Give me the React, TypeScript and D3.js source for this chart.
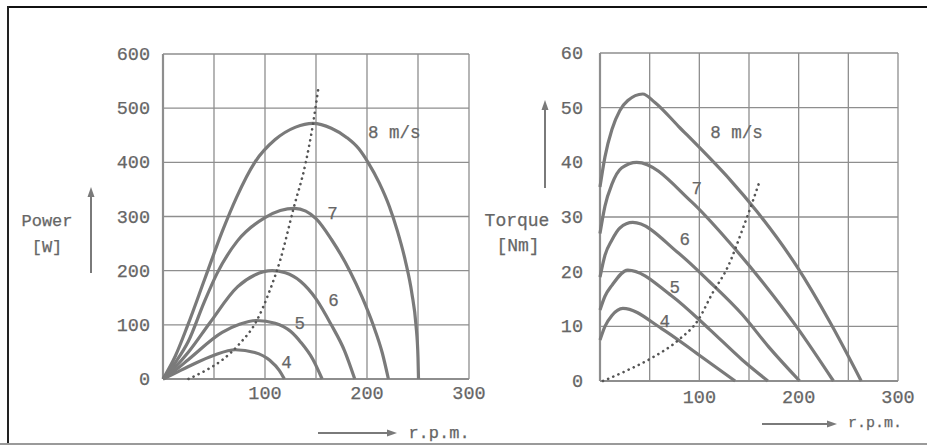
import React from 'react';
import * as d3 from 'd3';

// power curves [rpm, W]
const power8: [number, number][] = [[0, 0], [12, 42], [24, 98], [41, 185], [58, 272], [72, 335], [90, 400], [110, 442], [130, 465], [147, 472], [165, 463], [180, 446], [192, 425], [201, 400], [212, 362], [222, 318], [230, 272], [238, 215], [244, 158], [248, 100], [250, 40], [250.5, 0]];
const power7: [number, number][] = [[0, 0], [12, 30], [25, 70], [40, 140], [53, 195], [73, 255], [100, 298], [115, 311], [129, 315], [140, 310], [150, 296], [165, 258], [183, 200], [195, 152], [206, 100], [215, 48], [221, 0]];
const power6: [number, number][] = [[0, 0], [12, 22], [25, 50], [46, 104], [73, 170], [90, 192], [107, 200], [120, 196], [135, 180], [150, 148], [165, 100], [178, 52], [188, 0]];
const power5: [number, number][] = [[0, 0], [12, 16], [25, 36], [58, 86], [75, 101], [92, 108], [110, 103], [125, 88], [135, 68], [147, 36], [156, 0]];
const power4: [number, number][] = [[0, 0], [12, 11], [25, 23], [50, 44], [71, 54], [90, 49], [105, 34], [114, 16], [119, 0]];
const powerMax: [number, number][] = [[25, 0], [42, 16], [58, 35], [75, 65], [92, 108], [104, 160], [115, 220], [128, 315], [140, 400], [147, 470], [152, 533]];

// torque curves [rpm, Nm]
const torque8: [number, number][] = [[0, 35.5], [5, 41], [12, 46], [20, 49.5], [28, 51.3], [43, 52.5], [55, 51], [79, 46.6], [113, 40.3], [131, 36.8], [158, 31], [198, 21], [232, 10.6], [263, 0]];
const torque7: [number, number][] = [[0, 27], [5, 32], [12, 36], [22, 39], [37, 40], [92, 32.8], [131, 25.2], [165, 17.8], [198, 9.9], [235, 0]];
const torque6: [number, number][] = [[0, 19], [5, 23], [12, 25.8], [20, 28], [33, 29], [79, 23.4], [110, 18.2], [143, 12.2], [170, 6.2], [201, 0]];
const torque5: [number, number][] = [[0, 13], [5, 15.5], [12, 17.5], [28, 20.3], [72, 15.6], [110, 9.5], [143, 3.9], [169, 0]];
const torque4: [number, number][] = [[0, 7.5], [5, 10], [12, 12], [23, 13.3], [62, 9.6], [100, 4.7], [136, 0]];
const torqueMax: [number, number][] = [[3, 0], [28, 2], [52, 4.2], [79, 7.5], [99, 11.2], [113, 16], [129, 21], [144, 28], [154, 33], [161, 36.7]];

const rpmTicks = [100, 200, 300];
const rpmGrid = [0, 50, 100, 150, 200, 250, 300];
const powerTicks = [0, 100, 200, 300, 400, 500, 600];
const torqueTicks = [0, 10, 20, 30, 40, 50, 60];

const powerLabels = [
  { text: '8 m/s', rpm: 201, v: 445 },
  { text: '7', rpm: 161, v: 295 },
  { text: '6', rpm: 162, v: 135 },
  { text: '5', rpm: 129, v: 92 },
  { text: '4', rpm: 116, v: 20 },
];
const torqueLabels = [
  { text: '8 m/s', rpm: 111, v: 44.4 },
  { text: '7', rpm: 92, v: 34.2 },
  { text: '6', rpm: 80, v: 24.9 },
  { text: '5', rpm: 70, v: 16.1 },
  { text: '4', rpm: 60, v: 9.9 },
];

const FONT = '"Liberation Mono", "DejaVu Sans Mono", monospace';
const INK = '#666';
const CURVE = '#7a7a7a';
const GRID = '#8e8e8e';

const txt = { fontFamily: FONT, fill: INK, stroke: INK, strokeWidth: 0.25 };

const Panel = ({ x0, x1, y0, y1, yMax, yTicks, curves, dotted, labels, xLabelY, yLabelX }) => {
  const x = d3.scaleLinear().domain([0, 300]).range([x0, x1]);
  const y = d3.scaleLinear().domain([0, yMax]).range([y1, y0]);
  const line = d3.line<[number, number]>()
    .x(d => x(d[0]))
    .y(d => y(d[1]))
    .curve(d3.curveMonotoneX);

  return (
    <g>
      {rpmGrid.map(t => (
        <line key={'v' + t} x1={x(t)} x2={x(t)} y1={y0} y2={y1} stroke={GRID} strokeWidth={t === 0 ? 2.2 : 1.3} />
      ))}
      {yTicks.map(t => (
        <line key={'h' + t} x1={x0} x2={x1} y1={y(t)} y2={y(t)} stroke={GRID} strokeWidth={t === 0 ? 2.2 : 1.4} />
      ))}
      {yTicks.map(t => (
        <text key={'yl' + t} x={yLabelX} y={y(t) + 6} textAnchor="end" fontSize={18.5} {...txt}>{t}</text>
      ))}
      {rpmTicks.map(t => (
        <text key={'xl' + t} x={x(t)} y={xLabelY} textAnchor="middle" fontSize={18.5} {...txt}>{t}</text>
      ))}
      {curves.map((c, i) => (
        <path key={'c' + i} d={line(c) || ''} fill="none" stroke={CURVE} strokeWidth={3.2} strokeLinejoin="round" />
      ))}
      <path d={line(dotted) || ''} fill="none" stroke="#555" strokeWidth={2.6} strokeDasharray="0.1 5.5" strokeLinecap="round" />
      {labels.map(l => (
        <text key={l.text} x={x(l.rpm)} y={y(l.v)} fontSize={17.5} {...txt}>{l.text}</text>
      ))}
    </g>
  );
};

const Arrow = ({ x1, y1, x2, y2 }) => {
  const a = Math.atan2(y2 - y1, x2 - x1);
  const len = 10, w = 3.5;
  const bx = x2 - len * Math.cos(a), by = y2 - len * Math.sin(a);
  const px = -Math.sin(a) * w, py = Math.cos(a) * w;
  return (
    <g>
      <line x1={x1} y1={y1} x2={bx} y2={by} stroke={CURVE} strokeWidth={2} />
      <polygon points={`${x2},${y2} ${bx + px},${by + py} ${bx - px},${by - py}`} fill={CURVE} />
    </g>
  );
};

export default function App() {
  return (
    <svg width={927} height={448} style={{ position: 'absolute', left: 0, top: 0, background: '#fff' }}>
      <rect x={0} y={0} width={927} height={448} fill="#fff" />
      <line x1={8} x2={927} y1={7} y2={7} stroke="#111" strokeWidth={2} />
      <line x1={8} x2={8} y1={6} y2={444} stroke="#222" strokeWidth={2} />
      <line x1={0} x2={927} y1={444} y2={444} stroke="#9a9a9a" strokeWidth={2} />

      <Panel x0={163} x1={469} y0={54} y1={379} yMax={600} yTicks={powerTicks}
        curves={[power8, power7, power6, power5, power4]} dotted={powerMax}
        labels={powerLabels} xLabelY={399} yLabelX={150} />
      <Panel x0={600} x1={898} y0={53} y1={381} yMax={60} yTicks={torqueTicks}
        curves={[torque8, torque7, torque6, torque5, torque4]} dotted={torqueMax}
        labels={torqueLabels} xLabelY={403} yLabelX={583} />

      <text x={47} y={226} textAnchor="middle" fontSize={17} {...txt}>Power</text>
      <text x={47} y={252} textAnchor="middle" fontSize={17} {...txt}>[W]</text>
      <Arrow x1={91} y1={273} x2={91} y2={187} />
      <text x={439} y={438} textAnchor="middle" fontSize={17} {...txt}>r.p.m.</text>
      <Arrow x1={318} y1={433} x2={397} y2={433} />

      <text x={517} y={226} textAnchor="middle" fontSize={18} {...txt}>Torque</text>
      <text x={518} y={251} textAnchor="middle" fontSize={18} {...txt}>[Nm]</text>
      <Arrow x1={545} y1={188} x2={545} y2={100} />
      <text x={875} y={427} textAnchor="middle" fontSize={15} {...txt}>r.p.m.</text>
      <Arrow x1={762} y1={424} x2={837} y2={424} />
    </svg>
  );
}
